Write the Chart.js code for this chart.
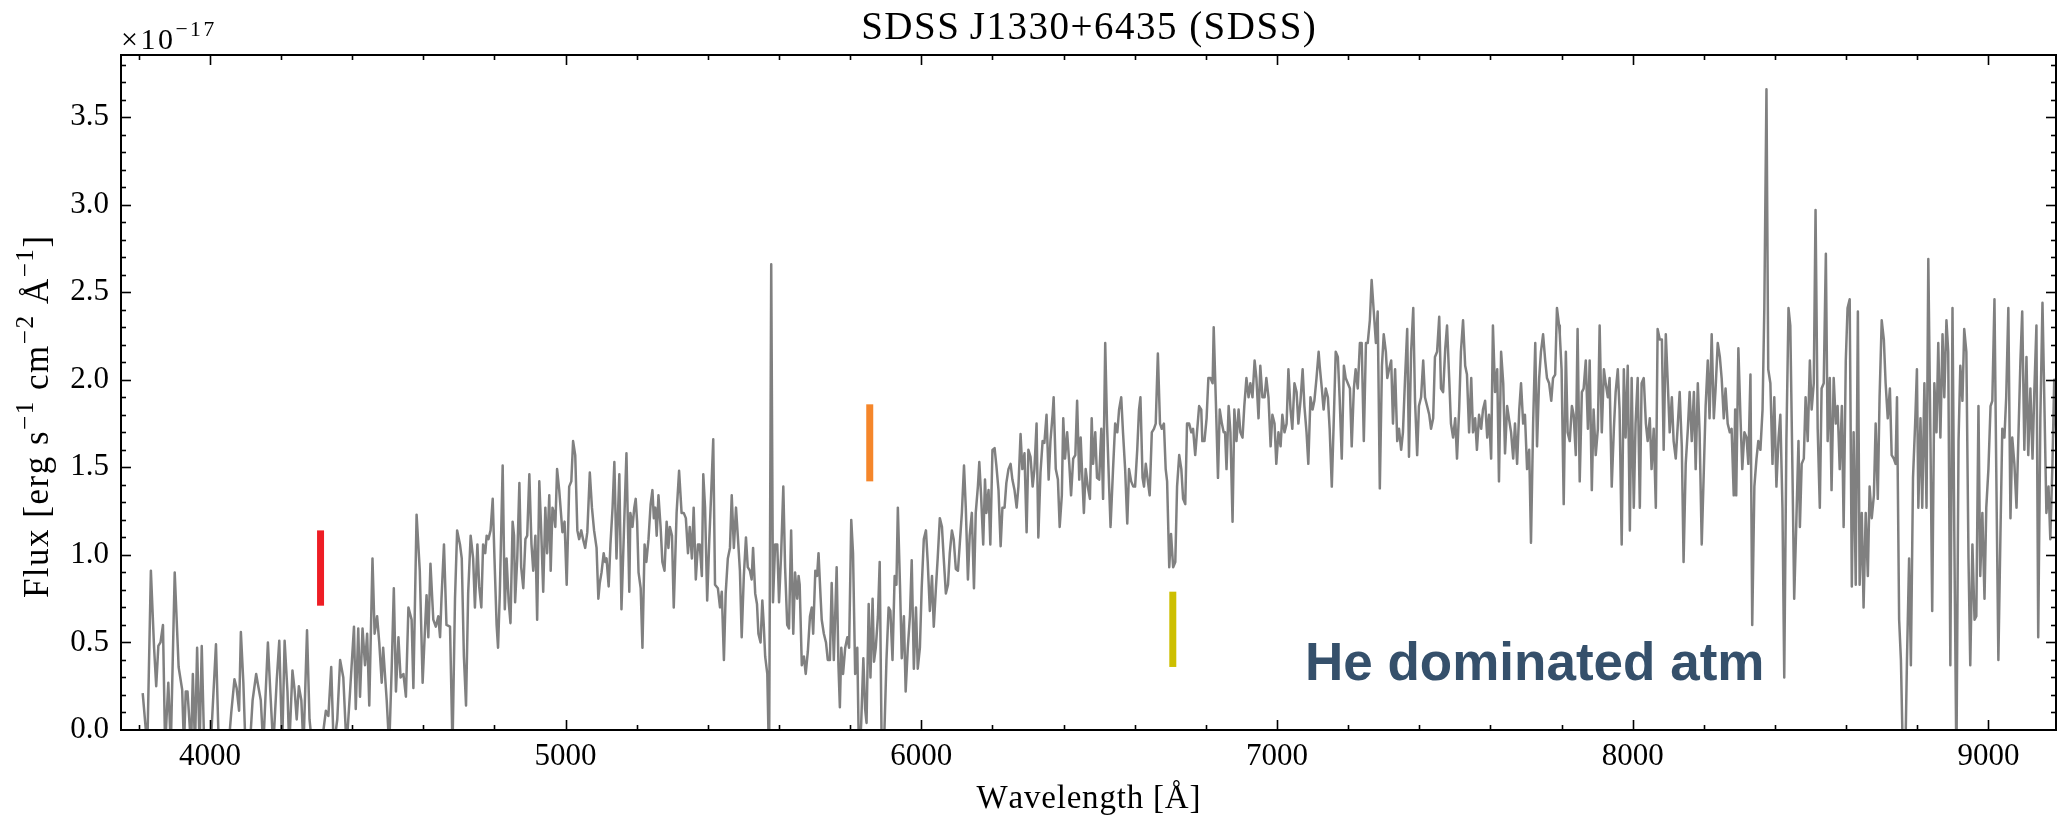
<!DOCTYPE html>
<html>
<head>
<meta charset="utf-8">
<script src="https://cdn.jsdelivr.net/npm/chart.js@4.4.1/dist/chart.umd.min.js"></script>
<style>
html, body { margin: 0; padding: 0; background: #ffffff; }
canvas { display: block; }
</style>
</head>
<body>
<canvas id="spec" width="2057" height="819"></canvas>
<script>
// Observed spectrum of SDSS J1330+6435: wavelength in Angstrom, flux in units of 1e-17 erg/s/cm^2/A
const wavelength = [
  3811,3824,3834,3843,3849,3855,3861,3868,3874,3883,
  3890,3901,3912,3922,3927,3932,3937,3947,3952,3958,
  3964,3971,3977,3984,3989,4002,4017,4025,4037,4052,
  4060,4069,4075,4082,4087,4094,4100,4112,4120,4130,
  4135,4143,4150,4156,4163,4170,4178,4188,4195,4203,
  4210,4218,4223,4232,4238,4244,4250,4257,4263,4273,
  4280,4288,4300,4313,4326,4333,4341,4348,4358,
  4366,4375,4384,4394,4405,4410,4417,4422,4429,4436,
  4442,4448,4457,4463,4470,4476,4483,4487,4497,4504,
  4511,4517,4523,4530,4536,4544,4551,4558,4567,4572,
  4581,4590,4598,4604,4609,4614,4620,4628,4635,4642,
  4647,4651,4658,4665,4675,4682,4689,4695,4703,4708,
  4714,4720,4726,4733,4740,4745,4752,4757,4763,4768,
  4774,4778,4783,4789,4795,4800,4806,4810,4815,4823,
  4829,4834,4840,4845,4851,4855,4858,4864,4870,4875,
  4881,4887,4892,4898,4904,4909,4915,4920,4926,4931,
  4937,4943,4948,4954,4958,4963,4967,4971,4976,4982,
  4988,4991,4997,5003,5010,5016,5021,5027,5033,5038,
  5044,5049,5055,5061,5068,5074,5080,5087,5092,
  5096,5101,5107,5111,5115,5121,5126,5132,5137,5143,
  5151,5157,5164,5171,5179,5182,5188,5193,5197,5201,
  5205,5211,5216,5222,5227,5233,5239,5244,5248,5252,
  5256,5261,5267,5272,5278,5284,5289,5293,5299,5304,
  5312,5319,5326,5332,5338,5344,5349,5355,5360,5366,
  5372,5377,5383,5387,5392,5398,5404,5409,5415,5420,
  5428,5434,5439,5445,5450,5456,5462,5467,5473,5479,
  5484,5490,5495,5501,5507,5512,5518,5523,5527,5533,
  5538,5542,5548,5553,5557,5561,5567,5572,5578,5583,
  5589,5595,5600,5606,5612,5617,5623,5628,5634,5640,
  5645,5651,5655,5658,5664,5670,5675,5681,5687,5692,
  5696,5702,5707,5711,5717,5720,
  5726,5732,5737,5743,5748,5754,5762,5767,5771,5775,
  5780,5786,5792,5797,5803,5808,5814,5820,5825,5831,
  5837,5842,5846,5852,5857,5863,5867,5872,5878,5883,
  5889,5895,5902,5908,5913,5919,5925,5930,5934,5940,
  5945,5951,5956,5962,5968,5973,5979,5985,5990,5996,
  6001,6007,6013,6018,6024,6030,6035,6041,6046,6052,
  6058,6063,6069,6075,6080,6086,6091,6097,6103,6108,
  6114,6120,6125,6131,6136,6142,6148,6153,6159,6163,
  6168,6174,6179,6183,6189,6194,6200,6206,6211,6217,
  6223,6228,6234,6239,6245,6251,6256,6262,6268,6273,
  6279,6284,6290,6296,6301,6307,6313,6318,6324,6329,
  6335,6341,6346,6352,6358,6363,6369,6372,6378,6384,
  6389,
  6395,6399,6404,6410,6416,6421,6427,6433,6438,6444,
  6448,6451,6457,6462,6468,6474,6479,6483,6489,6494,
  6500,6506,6511,6517,6522,6528,6532,6539,6545,6551,
  6556,6562,6567,6573,6579,6584,6590,6596,6601,6607,
  6612,6616,6622,6626,6631,6637,6642,6648,6654,6659,
  6665,6671,6676,6682,6687,6691,6697,6702,6708,6714,
  6719,6725,6731,6736,6742,6747,6753,6759,6764,6770,
  6775,6781,6787,6790,6796,6802,6807,6813,6819,6822,
  6828,6834,6839,6845,6850,6854,6858,6864,6869,6875,
  6880,6886,6892,6897,6903,6908,6914,6920,6925,6931,
  6937,6942,6948,6953,6959,6965,6970,6976,6982,6987,
  6993,6998,7004,7010,7015,7021,7027,7032,7038,7043,
  7049,7055,7060,7066,7072,7077,7083,7088,7094,7100,
  7105,7111,7117,
  7120,7126,7131,7137,7143,7148,7154,7160,7165,7171,
  7176,7182,7188,7193,7199,7205,7210,7216,7221,7227,
  7233,7238,7244,7250,7255,7261,7266,7272,7278,7283,
  7289,7295,7300,7306,7310,7315,7321,7326,7332,7338,
  7343,7349,7354,7360,7366,7371,7377,7383,7388,7394,
  7399,7405,7411,7416,7422,7428,7433,7439,7444,7450,
  7456,7461,7467,7473,7478,7484,7489,7495,7501,7506,
  7512,7517,7523,7529,7534,7540,7546,7551,7557,7562,
  7568,7574,7579,7585,7591,7596,7602,7607,7613,7619,
  7624,7630,7636,7641,7647,7652,7658,7664,7669,7675,
  7681,7686,7692,7697,7703,7709,7714,7720,7726,7731,
  7737,7742,7748,7754,7759,7765,7771,7776,7782,7787,
  7793,
  7795,7800,7806,7812,7817,7823,7829,7834,7840,7845,
  7851,7857,7862,7868,7874,7879,7885,7890,7896,7902,
  7907,7913,7919,7924,7930,7935,7941,7947,7952,7958,
  7963,7969,7975,7980,7986,7992,7997,8003,8008,8014,
  8020,8025,8031,8037,8042,8048,8053,8059,8065,8070,
  8076,8082,8087,8093,8098,8104,8110,8115,8121,8126,
  8132,8138,8143,8149,8155,8160,8166,8172,8177,8183,
  8188,8194,8200,8205,8211,8216,8222,8228,8233,8239,
  8245,8250,8256,8261,8267,8273,8278,8284,8288,8291,
  8297,8303,8308,8314,8320,8325,8331,8336,8342,8348,
  8353,8359,8365,8370,8376,8381,8387,8393,8398,8404,
  8410,8415,8421,8426,8432,8438,8443,8449,8454,8460,
  8466,
  8470,8475,8481,8486,8492,8498,8503,8509,8514,8520,
  8526,8531,8537,8543,8548,8554,8559,8565,8571,8576,
  8582,8588,8593,8599,8604,8610,8616,8621,8627,8633,
  8638,8644,8649,8655,8661,8666,8672,8678,8683,8689,
  8694,8700,8706,8711,8717,8723,8728,8734,8739,8743,
  8749,8754,8760,8766,8771,8777,8782,8788,8794,8799,
  8803,8809,8814,8820,8826,8831,8837,8842,8848,8854,
  8859,8865,8871,8876,8882,8887,8893,8899,8904,8910,
  8916,8921,8927,8932,8938,8944,8949,8955,8961,8966,
  8972,8977,8983,8989,8994,9000,9006,9011,9017,9022,
  9028,9034,9039,9045,9050,9056,9062,9067,9073,9079,
  9084,9090,9095,9101,9107,9112,9118,9124,9129,9135,
  9140,9146,9152,9157,9163,9169,9174,9180,9185,9191
];

const flux = [
  0.21,-0.1,0.91,0.47,0.25,0.48,0.50,0.60,-0.1,0.27,
  -0.1,0.90,0.36,0.23,-0.1,0.22,0.22,-0.1,0.32,-0.1,
  0.47,-0.1,0.48,-0.1,-0.2,-0.1,0.49,-0.1,-0.2,-0.1,
  0.10,0.29,0.24,0.11,0.56,0.27,-0.1,-0.1,0.17,0.32,
  0.26,0.17,-0.1,0.18,0.50,0.21,-0.1,0.29,0.51,-0.1,
  0.51,0.22,-0.1,0.34,0.23,0.06,0.25,0.17,-0.1,0.57,
  0.06,-0.1,-0.2,-0.1,0.11,0.08,0.36,-0.1,0.06,
  0.40,0.30,-0.1,0.22,0.59,0.12,0.58,0.19,0.58,0.37,
  0.55,0.14,0.98,0.55,0.65,0.50,0.27,0.47,0.17,-0.1,
  0.35,0.81,0.22,0.53,0.30,0.32,0.19,0.70,0.63,0.24,
  1.23,0.91,0.27,0.55,0.77,0.53,0.95,0.63,0.59,0.65,
  0.53,0.75,1.06,0.60,0.59,-0.1,0.75,1.14,1.06,0.98,
  0.42,0.14,0.78,1.11,0.98,0.70,1.06,0.82,0.70,1.06,
  1.01,1.11,1.09,1.14,1.32,0.98,0.60,0.47,0.78,1.51,
  0.69,0.98,0.73,0.61,1.19,1.11,0.73,0.98,1.41,0.93,
  0.81,1.09,1.11,1.46,1.06,0.91,1.11,0.63,1.42,1.16,
  0.79,1.27,1.01,1.34,0.91,1.27,1.24,1.16,1.49,1.37,
  1.21,1.13,1.19,0.83,1.39,1.42,1.65,1.57,1.14,1.09,
  1.14,1.09,1.04,1.13,1.47,1.27,1.14,1.04,0.75,
  0.84,0.90,1.01,0.96,0.98,0.82,1.06,1.27,1.53,0.98,
  1.46,0.69,1.14,1.58,0.79,1.24,1.16,1.27,1.32,1.19,
  0.90,0.81,0.47,1.06,0.96,1.09,1.29,1.37,1.21,1.27,
  1.11,1.34,1.16,0.96,0.91,1.19,1.04,1.16,1.11,0.70,
  1.24,1.48,1.24,1.24,1.21,1.01,1.16,0.98,1.27,0.86,
  1.06,1.06,0.88,1.46,1.27,0.74,1.09,1.34,1.66,0.83,
  0.81,0.70,0.79,0.40,0.78,0.98,1.04,1.34,1.04,1.27,
  1.11,0.91,0.53,0.88,1.10,0.93,0.91,0.86,1.04,0.78,
  0.72,0.55,0.50,0.74,0.60,0.42,0.32,-0.2,2.66,0.73,
  1.06,1.06,0.73,1.01,1.39,0.93,0.60,0.58,1.14,0.55,
  0.90,0.75,0.88,0.83,0.37,0.42,0.32,0.45,0.65,0.70,
  0.55,0.91,0.88,1.01,0.75,0.63,
  0.55,0.50,0.40,0.40,0.84,0.40,0.93,0.37,0.13,0.47,
  0.32,0.47,0.53,0.47,1.20,1.01,0.32,0.47,-0.2,0.04,
  0.41,0.12,0.04,0.72,0.30,0.75,0.39,0.47,0.65,0.96,
  -0.2,-0.1,0.40,0.70,0.68,0.40,0.88,0.83,1.27,0.83,
  0.41,0.65,0.22,0.47,0.65,0.97,0.35,0.70,0.35,0.47,
  0.81,1.09,1.14,0.96,0.68,0.88,0.59,0.81,0.98,1.21,
  1.16,0.98,0.78,0.83,1.01,1.14,1.09,0.92,0.91,1.06,
  1.24,1.51,1.27,0.86,1.11,1.24,0.81,1.24,1.39,1.53,
  1.34,1.06,1.43,1.24,1.37,1.06,1.60,1.61,1.51,1.37,
  1.05,1.27,1.27,1.41,1.49,1.52,1.43,1.37,1.27,1.39,
  1.69,1.49,1.58,1.13,1.60,1.56,1.39,1.49,1.75,1.10,
  1.47,1.65,1.64,1.80,1.43,1.65,1.80,1.90,1.49,1.43,
  1.16,
  1.34,1.78,1.55,1.70,1.52,1.34,1.55,1.57,1.88,1.43,
  1.67,1.52,1.24,1.49,1.39,1.32,1.78,1.52,1.70,1.44,
  1.43,1.72,1.32,2.21,1.75,1.39,1.16,1.49,1.75,1.70,
  1.83,1.90,1.70,1.49,1.18,1.49,1.42,1.39,1.39,1.60,
  1.83,1.90,1.44,1.39,1.52,1.42,1.34,1.70,1.72,1.75,
  2.15,1.75,1.72,1.75,1.49,1.42,0.93,1.12,0.93,0.96,
  1.39,1.57,1.49,1.32,1.29,1.75,1.75,1.70,1.72,1.57,
  1.70,1.85,1.83,1.65,1.65,1.78,2.01,2.01,1.98,2.30,
  1.88,1.44,1.83,1.75,1.70,1.70,1.49,1.85,1.70,1.19,
  1.83,1.65,1.83,1.70,1.67,1.85,2.01,1.90,1.98,1.90,
  2.11,2.01,1.78,2.08,1.90,1.90,2.01,1.90,1.62,1.80,
  1.75,1.52,1.70,1.62,1.80,1.70,1.75,2.06,1.83,1.72,
  1.98,1.93,1.75,1.88,2.06,1.85,1.70,1.52,1.90,1.83,
  1.88,2.01,2.16,
  2.08,1.95,1.83,1.95,1.90,1.72,1.39,1.80,2.16,2.13,
  1.90,1.55,2.08,2.01,1.98,1.95,1.62,1.95,2.06,1.95,
  2.21,2.21,1.65,2.21,2.21,2.34,2.57,2.39,2.21,2.39,
  1.38,2.08,2.26,2.16,2.01,2.06,2.11,1.75,2.06,1.65,
  1.72,1.60,1.70,2.01,2.29,1.56,2.16,2.41,1.88,1.57,
  1.85,1.90,2.11,1.90,1.85,1.80,1.72,1.78,2.13,2.16,
  2.36,1.95,1.93,2.18,2.31,2.01,1.75,1.67,1.78,1.55,
  1.83,2.16,2.34,2.08,2.03,1.70,2.01,1.70,1.78,1.60,
  1.80,1.72,1.83,1.88,1.67,1.80,1.55,2.31,1.93,2.06,
  1.42,2.16,1.98,1.58,1.85,1.78,1.70,1.55,1.75,1.52,
  1.83,1.98,1.75,1.80,1.49,1.60,1.07,1.75,2.21,1.62,
  2.01,2.16,2.26,2.11,2.01,1.98,1.88,2.01,2.03,2.41,
  2.31,
  2.26,2.06,1.29,2.16,1.70,1.65,1.85,1.80,1.57,2.29,
  1.42,1.93,1.95,2.11,1.72,2.11,1.37,1.83,1.57,1.72,
  2.31,1.70,2.06,1.98,1.90,2.01,1.39,1.72,1.93,2.06,
  1.83,1.06,2.06,1.67,2.08,1.14,2.01,1.27,1.75,2.01,
  1.27,1.98,2.01,1.75,1.65,1.78,1.49,1.72,1.27,2.29,
  2.23,2.23,1.60,2.26,2.01,1.70,1.90,1.65,1.55,1.72,
  1.93,1.62,0.96,1.52,1.72,1.93,1.65,1.93,1.49,1.98,
  1.70,1.06,1.49,1.85,2.11,1.78,2.26,1.78,1.95,2.21,
  2.13,2.01,1.78,1.95,1.75,1.70,1.72,1.34,1.83,1.34,
  2.18,1.78,1.49,1.70,1.67,1.52,2.03,0.60,1.39,1.55,
  1.65,1.60,1.83,2.41,3.66,2.06,1.98,1.52,1.90,1.39,
  1.67,1.80,1.27,0.30,1.65,2.41,2.31,1.49,0.75,1.19,
  1.65,
  1.16,1.52,1.55,1.90,1.65,2.11,1.83,1.98,2.97,1.72,
  1.27,1.95,1.98,2.72,1.65,2.01,1.37,2.01,1.75,1.85,
  1.49,1.85,1.16,2.11,2.41,2.46,0.82,1.70,0.83,2.39,
  0.83,1.24,0.70,1.24,0.88,1.39,1.21,1.34,1.75,1.32,
  1.90,2.34,2.23,1.98,1.78,1.95,1.57,1.55,1.52,1.90,
  0.63,0.40,-0.2,-0.2,0.40,0.98,0.37,1.44,1.75,2.06,
  1.27,1.78,1.27,1.98,1.27,2.69,1.67,0.68,1.98,1.70,
  2.21,1.67,2.26,1.90,2.34,2.16,0.37,2.41,1.14,-0.2,
  1.65,2.08,1.88,2.29,2.16,0.98,0.37,1.06,0.63,0.65,
  1.85,0.88,1.24,0.75,1.27,1.49,1.85,1.88,2.46,1.49,
  0.40,1.14,1.72,1.67,1.90,2.41,1.21,1.67,1.52,1.27,
  1.65,2.11,2.39,1.60,2.13,1.57,1.95,1.55,1.93,2.31,
  0.53,1.78,2.44,1.90,1.24,1.39,1.09,1.52,2.00,1.65
];

// Axis ticks
const xTickValues = [4000, 5000, 6000, 7000, 8000, 9000];
const yTickValues = [0, 0.5, 1.0, 1.5, 2.0, 2.5, 3.0, 3.5];

// Marked absorption features (wavelength, lower / upper flux of the marker bar)
const markWavelength = [4311, 5855, 6707];
const markLow = [0.71, 1.42, 0.36];
const markHigh = [1.14, 1.86, 0.79];
const markColor = ['#ee1d24', '#f5862a', '#cdbf00'];

const X_MIN = 3750, X_MAX = 9190, Y_MIN = 0, Y_MAX = 3.855;
const SERIF = '"Liberation Serif", "Times New Roman", serif';

const spectrumPoints = wavelength.map((w, i) => ({ x: w, y: flux[i] }));

const markerSets = markWavelength.map((w, i) => ({
  data: [{ x: w, y: markLow[i] }, { x: w, y: markHigh[i] }],
  borderColor: markColor[i],
  borderWidth: 7,
  borderCapStyle: 'butt',
  pointRadius: 0,
  fill: false,
  clip: 0
}));

// Inward ticks on all four sides plus the axes frame
const frameTicks = {
  id: 'frameTicks',
  afterDatasetsDraw(chart) {
    const { ctx, chartArea: a, scales: { x, y } } = chart;
    ctx.save();
    ctx.strokeStyle = '#000';
    ctx.lineWidth = 1.6;
    const seg = (x1, y1, x2, y2) => { ctx.beginPath(); ctx.moveTo(x1, y1); ctx.lineTo(x2, y2); ctx.stroke(); };
    for (let v = 3800; v <= 9200; v += 200) {
      const px = Math.round(x.getPixelForValue(v)) + 0.5;
      if (px < a.left || px > a.right) continue;
      const len = v % 1000 === 0 ? 10 : 5;
      seg(px, a.bottom, px, a.bottom - len);
      seg(px, a.top, px, a.top + len);
    }
    for (let i = 0; i <= 38; i++) {
      const py = Math.round(y.getPixelForValue(i / 10)) + 0.5;
      if (py < a.top || py > a.bottom) continue;
      const len = i % 5 === 0 ? 10 : 5;
      seg(a.left, py, a.left + len, py);
      seg(a.right, py, a.right - len, py);
    }
    ctx.lineWidth = 2;
    ctx.strokeRect(a.left, a.top, a.right - a.left, a.bottom - a.top);
    ctx.restore();
  }
};

// Lays out [text, superscript?] runs character by character with extra tracking.
// Draws when draw is true; always returns the total advance.
function layoutRuns(ctx, runs, x, y, size, track, draw) {
  let cx = x;
  for (const [txt, sup] of runs) {
    const s = sup ? size * 0.72 : size;
    ctx.font = s + 'px ' + SERIF;
    for (const ch of txt) {
      if (draw) ctx.fillText(ch, cx, sup ? y - size * 0.42 : y);
      cx += ctx.measureText(ch).width + track;
    }
  }
  return cx - x - track;
}

const textLayer = {
  id: 'textLayer',
  afterDraw(chart) {
    const { ctx, chartArea: a } = chart;
    const cx = (a.left + a.right) / 2;
    ctx.save();
    ctx.fillStyle = '#000';
    ctx.textBaseline = 'alphabetic';
    ctx.textAlign = 'left';

    // Title
    const titleRuns = [['SDSS\u2009J1330+6435 (SDSS)', false]];
    const tw = layoutRuns(ctx, titleRuns, 0, 0, 39, 1.5, false);
    layoutRuns(ctx, titleRuns, cx - tw / 2, 39, 39, 1.5, true);

    // Offset text of the flux axis
    layoutRuns(ctx, [['\u00d710', false], ['\u221217', true]], 121, 49, 30, 2.5, true);

    // x-axis label
    const xRuns = [['Wavelength [\u00c5]', false]];
    const xw = layoutRuns(ctx, xRuns, 0, 0, 33, 0.8, false);
    layoutRuns(ctx, xRuns, cx - xw / 2, 808, 33, 0.8, true);

    // y-axis label (rotated)
    const yRuns = [['Flux [erg s', false], ['\u22121', true], [' cm', false], ['\u22122', true], [' \u00c5', false], ['\u22121', true], [']', false]];
    const yw = layoutRuns(ctx, yRuns, 0, 0, 35, 1.5, false);
    ctx.save();
    ctx.translate(48, 417);
    ctx.rotate(-Math.PI / 2);
    layoutRuns(ctx, yRuns, -yw / 2, 0, 35, 1.5, true);
    ctx.restore();

    // Annotation
    ctx.fillStyle = '#35506b';
    ctx.font = 'bold 53px "Liberation Sans", Arial, sans-serif';
    ctx.fillText('He dominated atm', 1305, 680);
    ctx.restore();
  }
};

new Chart(document.getElementById('spec'), {
  type: 'line',
  data: {
    datasets: [
      {
        data: spectrumPoints,
        borderColor: '#808080',
        borderWidth: 2.5,
        borderJoinStyle: 'round',
        pointRadius: 0,
        tension: 0,
        fill: false,
        clip: 0
      },
      ...markerSets
    ]
  },
  options: {
    responsive: false,
    animation: false,
    devicePixelRatio: 1,
    parsing: false,
    layout: { padding: { top: 55, right: 1, left: 0, bottom: 0 } },
    plugins: { legend: { display: false }, tooltip: { enabled: false }, title: { display: false } },
    scales: {
      x: {
        type: 'linear',
        min: X_MIN,
        max: X_MAX,
        grid: { display: false, drawTicks: false },
        border: { display: false },
        afterBuildTicks: (s) => { s.ticks = xTickValues.map(v => ({ value: v })); },
        afterFit: (s) => { s.height = 89; },
        ticks: {
          autoSkip: false,
          maxRotation: 0,
          padding: 8,
          color: '#000',
          font: { family: SERIF, size: 31 },
          callback: (v) => String(v)
        }
      },
      y: {
        type: 'linear',
        min: Y_MIN,
        max: Y_MAX,
        grid: { display: false, drawTicks: false },
        border: { display: false },
        afterBuildTicks: (s) => { s.ticks = yTickValues.map(v => ({ value: v })); },
        afterFit: (s) => { s.width = 121; },
        ticks: {
          autoSkip: false,
          padding: 12,
          color: '#000',
          font: { family: SERIF, size: 31 },
          callback: (v) => Number(v).toFixed(1)
        }
      }
    }
  },
  plugins: [frameTicks, textLayer]
});
</script>
</body>
</html>
